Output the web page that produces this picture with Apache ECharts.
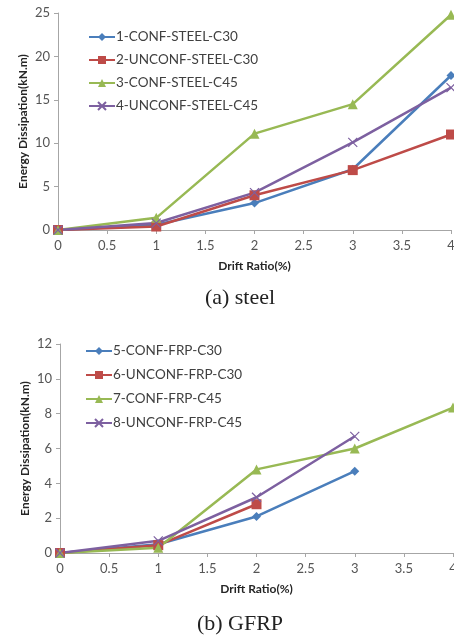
<!DOCTYPE html>
<html><head><meta charset="utf-8">
<script src="https://cdn.jsdelivr.net/npm/echarts@6/dist/echarts.min.js"></script>
<style>html,body{margin:0;padding:0;background:#fff}#c{width:454px;height:639px}</style>
</head><body><div id="c"></div>
<script>
const driftRatio = [0, 1, 2, 3, 4];
const steelNames = ['1-CONF-STEEL-C30', '2-UNCONF-STEEL-C30', '3-CONF-STEEL-C45', '4-UNCONF-STEEL-C45'];
const steel1 = [0, 0.6, 3.1, 7.0, 17.8];
const steel2 = [0, 0.4, 4.0, 6.9, 11.0];
const steel3 = [0, 1.4, 11.1, 14.5, 24.8];
const steel4 = [0, 0.8, 4.3, 10.1, 16.4];
const frpNames = ['5-CONF-FRP-C30', '6-UNCONF-FRP-C30', '7-CONF-FRP-C45', '8-UNCONF-FRP-C45'];
const frp5 = [0, 0.5, 2.1, 4.7];
const frp6 = [0, 0.45, 2.8];
const frp7 = [0, 0.3, 4.8, 6.0, 8.35];
const frp8 = [0, 0.7, 3.2, 6.7];
const xTicks = [0, 0.5, 1, 1.5, 2, 2.5, 3, 3.5, 4];
const steelYTicks = [0, 5, 10, 15, 20, 25];
const frpYTicks = [0, 2, 4, 6, 8, 10, 12];
const captions = ['(a) steel', '(b) GFRP'];

const colors = ['#4A7EBB', '#BE4B48', '#98B954', '#7D60A0'];
const crossPath = 'path://M0,0L10,10M10,0L0,10';
const symbols = ['diamond', 'rect', 'triangle', crossPath];
const symbolSizes = [9, 10, 10, 9];
const font = 'Lato';

function pairs(arr) { return arr.map((v, i) => [driftRatio[i], v]); }
function mkSeries(name, data, idx, axisIdx) {
  const s = {
    name, type: 'line', data: pairs(data), xAxisIndex: axisIdx, yAxisIndex: axisIdx,
    symbol: symbols[idx], symbolSize: symbolSizes[idx], showAllSymbol: true,
    lineStyle: { color: colors[idx], width: 2.5 },
    itemStyle: { color: colors[idx] },
    animation: false
  };
  if (idx === 3) s.itemStyle = { color: 'none', borderColor: colors[idx], borderWidth: 1.2 };
  return s;
}
const xAxisBase = (gi) => ({
  type: 'value', gridIndex: gi, min: 0, max: 4, interval: 0.5,
  name: 'Drift Ratio(%)', nameLocation: 'middle', nameGap: 30, nameMoveOverlap: false,
  nameTextStyle: { fontFamily: font, fontWeight: 'bold', fontSize: 12, color: '#262626' },
  axisLine: { lineStyle: { color: '#A6A6A6', width: 1 } },
  axisTick: { show: true, length: 4, lineStyle: { color: '#A6A6A6' } },
  axisLabel: { fontFamily: font, fontSize: 13, color: '#555', margin: 9, showMaxLabel: true },
  splitLine: { show: false }
});
const yAxisBase = (gi, ticks) => ({
  type: 'value', gridIndex: gi, min: ticks[0], max: ticks[ticks.length - 1], interval: ticks[1] - ticks[0],
  name: 'Energy Dissipation(kN.m)', nameLocation: 'middle', nameGap: 29, nameMoveOverlap: false,
  nameTextStyle: { fontFamily: font, fontWeight: 'bold', fontSize: 12, color: '#262626' },
  axisLine: { show: true, lineStyle: { color: '#A6A6A6', width: 1 } },
  axisTick: { show: true, length: 4, lineStyle: { color: '#A6A6A6' } },
  axisLabel: { fontFamily: font, fontSize: 13, color: '#555', margin: 8 },
  splitLine: { show: false }
});

const chart = echarts.init(document.getElementById('c'), null, { renderer: 'canvas' });
chart.setOption({
  animation: false,
  backgroundColor: '#fff',
  grid: [
    { left: 58, top: 13, width: 393, height: 217, outerBoundsMode: 'none', containLabel: false },
    { left: 60, top: 344, width: 393, height: 209, outerBoundsMode: 'none', containLabel: false }
  ],
  xAxis: [xAxisBase(0), xAxisBase(1)],
  yAxis: [yAxisBase(0, steelYTicks), yAxisBase(1, frpYTicks)],
  legend: [
    { data: steelNames, orient: 'vertical', left: 88, top: 30, padding: 0, itemGap: 9, itemWidth: 26, itemHeight: 10,
      textStyle: { fontFamily: font, fontSize: 13.5, color: '#404040', padding: [0, 0, 0, -4] } },
    { data: frpNames, orient: 'vertical', left: 85, top: 344, padding: 0, itemGap: 10, itemWidth: 26, itemHeight: 10,
      textStyle: { fontFamily: font, fontSize: 13.5, color: '#404040', padding: [0, 0, 0, -4] } }
  ],
  title: [
    { text: captions[0], left: 235, top: 282, textAlign: 'center',
      textStyle: { fontFamily: 'Liberation Serif', fontWeight: 'normal', fontSize: 22, color: '#222' } },
    { text: captions[1], left: 235, top: 608, textAlign: 'center',
      textStyle: { fontFamily: 'Liberation Serif', fontWeight: 'normal', fontSize: 22, color: '#222' } }
  ],
  series: [
    mkSeries(steelNames[0], steel1, 0, 0),
    mkSeries(steelNames[1], steel2, 1, 0),
    mkSeries(steelNames[2], steel3, 2, 0),
    mkSeries(steelNames[3], steel4, 3, 0),
    mkSeries(frpNames[0], frp5, 0, 1),
    mkSeries(frpNames[1], frp6, 1, 1),
    mkSeries(frpNames[2], frp7, 2, 1),
    mkSeries(frpNames[3], frp8, 3, 1)
  ]
});
</script></body></html>
